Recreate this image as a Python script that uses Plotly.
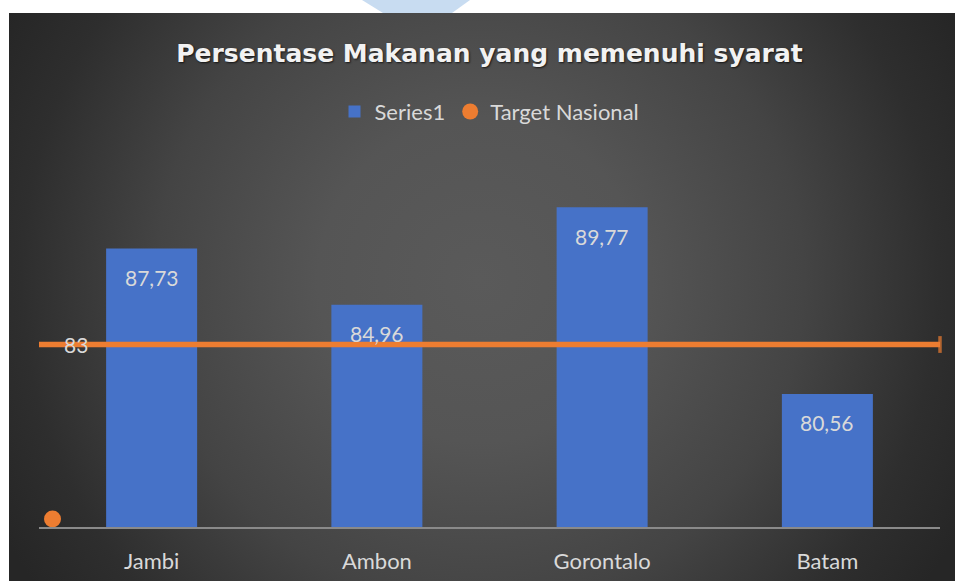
import base64
import plotly.graph_objects as go

# ---------------- data ----------------
categories = ["Jambi", "Ambon", "Gorontalo", "Batam"]
series1_values = [87.73, 84.96, 89.77, 80.56]
target_nasional = [83]
target_marker_x = [-0.44]
target_marker_y = [74.4]
y_axis_range = [74, 92]
chart_title = "Persentase Makanan yang memenuhi syarat"

# ---------------- layout geometry ----------------
W, H = 955, 581
ML, MR, MT, MB = 39, 15, 162, 54
PW = W - ML - MR
PH = H - MT - MB


def px_x(px):
    return (px - ML) / PW


def px_y(py):
    return (H - MB - py) / PH


def fmt(v):
    return f"{v:.2f}".replace(".", ",")


x_pos = list(range(len(categories)))
x_range = [-0.5, len(categories) - 0.5]

BLUE = "#4672c8"
ORANGE = "#ed7d31"
LABEL = "#d9d9d9"

# background radial gradient (dark chart area)
bx0, by0, bx1, by1 = 9, 13, W + 6, H + 6
bw, bh = bx1 - bx0, by1 - by0
svg = f'''<svg xmlns="http://www.w3.org/2000/svg" width="{bw}" height="{bh}" viewBox="0 0 {bw} {bh}" preserveAspectRatio="none">
<defs><radialGradient id="g" gradientUnits="userSpaceOnUse" cx="471" cy="267" r="540">
<stop offset="0" stop-color="#5a5a5a"/><stop offset="0.3" stop-color="#555555"/>
<stop offset="0.6" stop-color="#444444"/><stop offset="0.85" stop-color="#2e2e2e"/>
<stop offset="1" stop-color="#262626"/></radialGradient></defs>
<rect x="0" y="0" width="{bw}" height="{bh}" fill="url(#g)"/></svg>'''
bg_uri = "data:image/svg+xml;base64," + base64.b64encode(svg.encode()).decode()

fig = go.Figure()

fig.add_trace(go.Bar(
    x=x_pos, y=series1_values, name="Series1",
    marker=dict(color=BLUE, line=dict(width=0)),
    width=0.404, hoverinfo="x+y",
))

fig.add_trace(go.Scatter(
    x=x_range, y=target_nasional * 2, mode="lines+markers",
    line=dict(color=ORANGE, width=5.5),
    marker=dict(symbol=["line-ns", "line-ns"], size=[0, 12], color=ORANGE,
                line=dict(color=ORANGE, width=[0, 3.5])),
    showlegend=False, cliponaxis=False, hoverinfo="skip",
))

fig.add_trace(go.Scatter(
    x=target_marker_x, y=target_marker_y, mode="markers", name="Target Nasional",
    marker=dict(size=17, color=ORANGE), cliponaxis=False,
))

annotations = []
for xi, v in zip(x_pos, series1_values):
    annotations.append(dict(
        x=xi, y=v, xref="x", yref="y", text=fmt(v), showarrow=False,
        yanchor="middle", yshift=-29,
        font=dict(family="Lato", size=21, color=LABEL),
    ))
annotations.append(dict(
    x=x_range[0], y=target_nasional[0], xref="x", yref="y",
    text=str(target_nasional[0]), showarrow=False, xanchor="left",
    yshift=0, xshift=23,
    font=dict(family="Lato", size=21, color=LABEL),
))

fig.update_layout(
    width=W, height=H,
    margin=dict(l=ML, r=MR, t=MT, b=MB, pad=0, autoexpand=False),
    paper_bgcolor="white", plot_bgcolor="rgba(0,0,0,0)",
    title=dict(
        text=chart_title, x=0.5, xref="paper", xanchor="center",
        y=1 - 53 / H, yref="container", yanchor="middle",
        font=dict(family="DejaVu Sans", size=25, color="#f2f2f2", weight="bold",
                  shadow="1px 1px 2px rgba(0,0,0,0.7)"),
    ),
    legend=dict(
        orientation="h", x=0.5, xanchor="center", xref="paper",
        y=1 - 111.7 / H, yref="container", yanchor="middle",
        font=dict(family="Lato", size=22, color=LABEL),
        bgcolor="rgba(0,0,0,0)", itemwidth=30,
    ),
    xaxis=dict(
        range=x_range, tickvals=x_pos, ticktext=categories,
        showline=True, linecolor="#8a8a8a", linewidth=2,
        showgrid=False, zeroline=False, ticks="",
        tickfont=dict(family="Lato", size=22, color=LABEL),
        ticklabelstandoff=14, fixedrange=True, automargin=False,
    ),
    yaxis=dict(range=y_axis_range, visible=False, showgrid=False,
               fixedrange=True, automargin=False),
    annotations=annotations,
    images=[dict(
        source=bg_uri, xref="paper", yref="paper",
        x=px_x(bx0), y=px_y(by0), sizex=bw / PW, sizey=bh / PH,
        xanchor="left", yanchor="top", sizing="stretch", layer="below",
    )],
    shapes=[dict(
        type="path", xref="paper", yref="paper", layer="below",
        path=(f"M{px_x(362)},{px_y(0)} L{px_x(470)},{px_y(0)} "
              f"L{px_x(452)},{px_y(13)} L{px_x(383)},{px_y(13)} Z"),
        fillcolor="#c8dcf1", line=dict(width=0),
    )],
    showlegend=True,
)

fig.write_html(
    "out.html",
    config={"displayModeBar": False},
    post_script="document.body.style.margin='0';document.body.style.overflow='hidden';",
)
